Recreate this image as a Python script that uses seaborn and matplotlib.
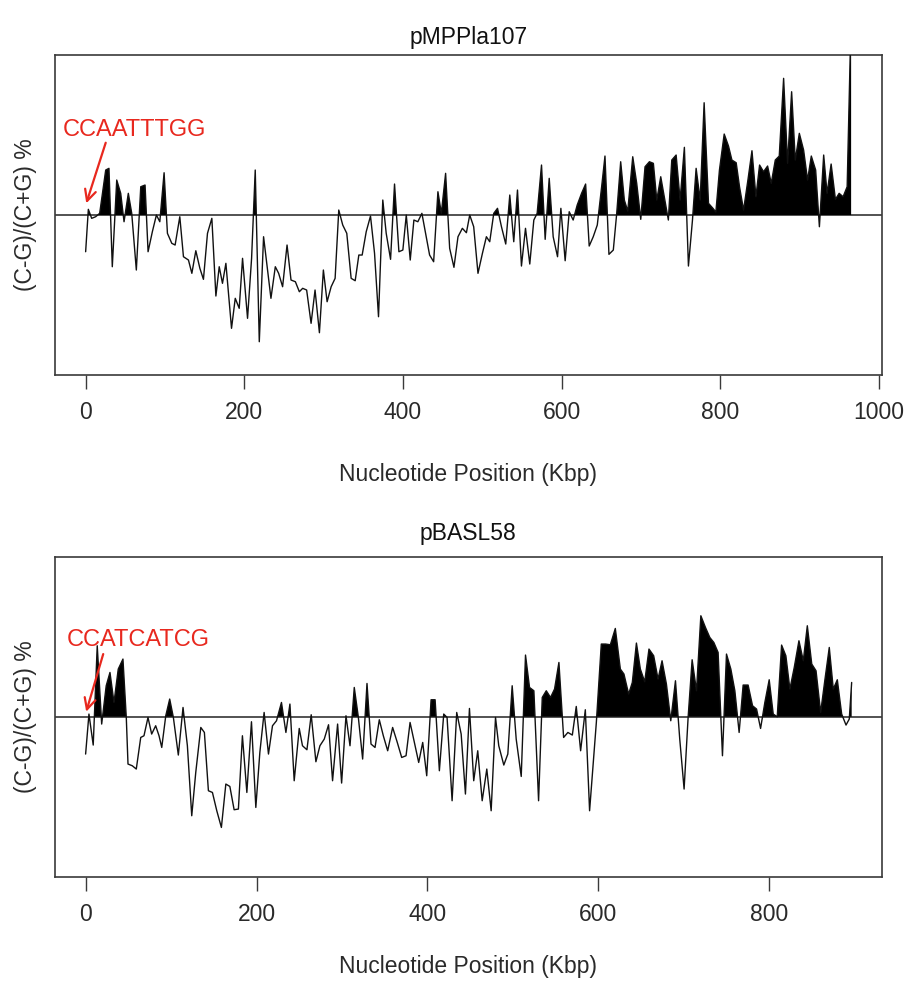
import numpy as np
import matplotlib
matplotlib.use("Agg")
import matplotlib.pyplot as plt
import seaborn as sns

# ---------------- data ----------------
titles = ["pMPPla107", "pBASL58"]
motifs = ["CCAATTTGG", "CCATCATCG"]
xlabel = "Nucleotide Position (Kbp)"
ylabel = "(C-G)/(C+G) %"

pos_top = [
    0, 3.4, 7.6, 12.6, 17.7, 25.3, 29.4, 33.6, 39.2, 44.2,
    48.4, 53.8, 58.1, 63.9, 69.5, 74.9, 78.7, 84.1, 89.2, 93.5,
    98.9, 103.1, 108.6, 112.8, 118.7, 123.3, 129.6, 133.9, 138.9, 144.0,
    148.5, 153.6, 159.1, 164.2, 168.4, 172.5, 176.8, 183.9, 188.6, 193.6,
    197.8, 204.1, 209.2, 213.8, 218.9, 224.3, 233.6, 239.1, 243.3, 248.3,
    253.9, 258.9, 264.4, 269.4, 273.6, 278.6, 284.2, 289.2, 294.7, 299.7,
    304.4, 309.5, 314.5, 319.1, 324.1, 329.2, 334.7, 339.8, 344.4, 348.6,
    353.7, 359.1, 364.2, 369.2, 374.6, 378.9, 384.4, 389.4, 394.9, 399.9,
    404.2, 409.2, 413.8, 418.8, 423.9, 429.4, 433.6, 438.7, 444.1, 448.4,
    453.8, 458.9, 464.3, 469.4, 474.9, 480.0, 484.2, 489.2, 494.6, 500.2,
    505.2, 509.4, 514.5, 519.2, 524.2, 529.6, 534.7, 539.7, 544.4, 549.4,
    554.5, 559.9, 565.0, 569.2, 574.7, 579.3, 584.4, 589.4, 594.9, 599.1,
    604.5, 609.6, 614.6, 619.7, 625.2, 630.3, 634.8, 639.9, 645.0, 650.5,
    654.7, 659.7, 665.2, 669.5, 674.5, 679.1, 683.4, 689.7, 694.7, 699.8,
    705.2, 710.7, 715.7, 720.0, 725.0, 730.1, 734.6, 738.9, 744.4, 749.4,
    754.8, 759.9, 765.0, 769.6, 774.7, 779.7, 785.2, 790.8, 794.5, 799.0,
    805.0, 810.4, 814.7, 820.1, 824.3, 829.4, 834.9, 840.0, 845.0, 849.6,
    854.6, 859.7, 864.3, 869.4, 874.4, 879.9, 884.9, 890.0, 894.6, 899.7,
    905.1, 910.1, 914.8, 920.3, 925.0, 930.4, 934.7, 939.8, 945.2, 949.9,
    954.9, 960.0, 965.0,
]
skew_top = [
    -36.7, 5.7, -3.3, -1.7, 1.7, 45, 46.7, -51.7, 35, 21.7,
    -6.7, 21.7, 1.7, -55, 28.3, 30, -36.7, -16.7, 0, -6.7,
    42.3, -18.3, -28.3, -30, -1.7, -41.7, -45, -58.3, -35.7, -53.3,
    -64.3, -18.3, -3.3, -81, -51.7, -68.3, -48.3, -113.3, -83.3, -93.3,
    -43.3, -103.3, -43.3, 45, -126.7, -21.7, -83.3, -51.7, -58.3, -71.7,
    -30, -65, -66.7, -76.7, -73.3, -75, -108.3, -75, -117.7, -55,
    -86.7, -71.7, -63.3, 5, -10, -18.3, -63.3, -65.7, -40, -40,
    -16.7, -1, -38.3, -101.7, 15, -18.3, -44.3, 31, -36.7, -35,
    0, -45, -5, -6.7, 1.7, -21.7, -40, -46.7, 23.3, 1.7,
    41.7, -33.3, -52.3, -21.7, -13.3, -17.7, 0, -11.7, -58.3, -38.3,
    -21.7, -26.7, 1.7, 6.7, -11.7, -29, 20, -26.7, 25, -51,
    -13.3, -49, -5, 1.7, 50, -24.3, 36.7, -21.7, -41.7, 6.7,
    -45.7, 3.3, -5, 10, 21.7, 31, -31, -21.7, -10, 28.3,
    59, -39.3, -35, 1.7, 53.3, 15, 4, 58.3, 31.7, -4.3,
    48.3, 53.3, 51.7, 15, 38.3, 15, -5, 55, 60, 15,
    67.7, -51, -5, 46.7, 15, 112.3, 11.7, 6.7, 3, 45,
    81, 69, 55, 52.3, 28.3, 5, 35, 64.3, 18.3, 50,
    43.3, 49, 31.7, 55, 59, 136.7, 51.7, 123.3, 55, 81.7,
    65, 35, 59, 45, -11.7, 60, 21.7, 51, 15.7, 21.7,
    18.3, 28.3, 200,
]

pos_bot = [
    0, 3.9, 8.9, 13.6, 18.8, 24.1, 28.5, 33.2, 38.2, 43.7,
    47.6, 49.6, 54.6, 59.3, 64.5, 68.3, 73.0, 77.3, 82.0, 85.9,
    89.1, 93.8, 98.4, 102.7, 108.5, 114.0, 119.1, 124.2, 128.9, 134.8,
    139.0, 143.7, 148.4, 153.5, 158.9, 164.1, 168.8, 173.8, 178.8, 183.5,
    188.7, 194.1, 199.2, 203.9, 208.9, 214.0, 218.7, 223.4, 229.2, 234.4,
    239.1, 244.1, 250.0, 253.8, 259.0, 264.0, 269.5, 274.2, 279.3, 284.3,
    289.0, 294.9, 299.6, 304.7, 309.4, 314.4, 319.1, 324.2, 329.3, 334.0,
    338.7, 343.7, 348.4, 353.5, 359.3, 364.5, 369.9, 375.0, 379.7, 384.7,
    389.8, 394.5, 399.2, 404.3, 409.0, 414.0, 419.1, 423.0, 428.9, 434.3,
    439.5, 444.5, 449.2, 454.2, 458.9, 464.1, 469.5, 474.6, 479.7, 483.5,
    489.4, 494.1, 499.2, 503.9, 509.8, 514.8, 519.5, 524.6, 530.1, 534.4,
    539.1, 544.1, 548.8, 553.9, 559.4, 564.4, 569.6, 574.2, 579.3, 584.8,
    589.8, 597.7, 603.5, 608.6, 614.1, 619.9, 625.8, 630.0, 635.5, 639.8,
    644.6, 649.2, 654.3, 659.3, 664.8, 669.9, 674.6, 679.7, 684.8, 690.3,
    695.3, 700.4, 705.1, 709.8, 714.9, 720.0, 725.4, 730.5, 735.2, 740.2,
    745.3, 750.0, 755.1, 759.8, 764.8, 769.5, 775.3, 780.5, 785.2, 789.9,
    794.9, 800.0, 804.7, 809.4, 814.5, 819.5, 824.2, 829.3, 834.8, 839.9,
    844.6, 849.8, 854.8, 860.2, 865.3, 870.3, 875.0, 879.7, 884.8, 889.9,
    893.7, 896.5,
]
skew_bot = [
    -37.3, 2.7, -28.3, 71, -7.3, 31, 44.3, 14.3, 47.7, 57.7,
    -0.7, -47.3, -49, -52.3, -20.7, -19, -0.7, -17.3, -9, -19,
    -30.7, 1, 17.7, -0.7, -38.3, 9.3, -29, -99, -55.7, -10.7,
    -15.7, -74, -75.7, -94, -110.7, -67.3, -69.7, -93, -92.3, -19,
    -75.7, -5, -90.7, -35.7, 4.3, -37.3, -9, -4, 14.3, -15.7,
    12.7, -64, -11.7, -29, -33, 2, -45, -29, -22.3, -8,
    -64, -7.3, -66.3, 1, -29, 29.3, 0, -42.3, 33.3, -27.3,
    -30.7, -3, -19, -34, -10.7, -25, -40.7, -39, -5.7, -25.7,
    -45.7, -25.7, -59, 17, 17, -54, 2.7, -0.7, -84, 4.3,
    -17.3, -77.3, 8.3, -64, -34, -84, -52.3, -94, -0.7, -29,
    -48.3, -37.3, 31, -22.3, -59.7, 61.7, 29.3, 26, -84, 19.3,
    26, 19.3, 27.7, 54.3, -20.7, -15.7, -18.3, 10.3, -34, 7,
    -94, -5.7, 72.7, 72.7, 72, 88.3, 47.7, 42.7, 22.7, 34.3,
    73.7, 47.7, 35, 67.7, 61, 37.7, 56, 32.7, -4, 36,
    -22.3, -72.3, -0.7, 57, 26, 101, 89.3, 79.3, 74.3, 64.3,
    -39, 62.7, 47.7, 26, -15.7, 31.7, 31.7, 11, 7.7, -11.7,
    14.3, 37, 2.7, 0, 71.7, 61, 27.7, 49.3, 76, 56,
    91, 52.7, 46, 4.3, 37.7, 69.3, 27.7, 37, 2.7, -8.3,
    -2.3, 34.3,
]

xticks_top = [0, 200, 400, 600, 800, 1000]
xticks_bot = [0, 200, 400, 600, 800]

# annotation anchor points (kbp, skew): text, arrow tail, arrow tip
motif_text_xy = [(-28.7, 85), (-21.6, 76.7)]
motif_tail_xy = [(25.3, 72.3), (20.6, 62.7)]
motif_tip_xy = [(0.8, 11.7), (0.7, 5.0)]

# ---------------- styling ----------------
sns.set_style("white")
plt.rcParams["font.family"] = ["Liberation Sans", "DejaVu Sans"]

FS = 16.5
RED = "#e8281e"
SPINE = "#3a3a3a"

fig = plt.figure(figsize=(9.05, 9.83), dpi=100)
axes_rects = [[0.0608, 0.6185, 0.9135, 0.3255],
              [0.0608, 0.1081, 0.9135, 0.3255]]
series = [(pos_top, skew_top, xticks_top, (-38.6, 1003.6)),
          (pos_bot, skew_bot, xticks_bot, (-35.8, 931.7))]
title_pads = [8, 12]
xlabel_pads = [28, 21]

for i, (rect, (pos, skew, xt, xl)) in enumerate(zip(axes_rects, series)):
    ax = fig.add_axes(rect)
    pos_a = np.asarray(pos, dtype=float)
    skew_a = np.asarray(skew, dtype=float)

    ax.fill_between(pos_a, skew_a, 0, where=skew_a > 0, interpolate=True,
                    color="black", linewidth=0, zorder=2)
    sns.lineplot(x=pos_a, y=skew_a, ax=ax, color="#111111", linewidth=1.0,
                 estimator=None, sort=False, zorder=3)
    ax.axhline(0, color="#444444", linewidth=1.3, zorder=1)

    ax.set_xlim(*xl)
    ax.set_ylim(-160, 160)
    ax.set_xticks(xt)
    ax.set_xticklabels([str(t) for t in xt])
    ax.set_yticks([])
    ax.tick_params(axis="x", direction="out", length=10, width=1.0,
                   color=SPINE, labelsize=FS, labelcolor="#2a2a2a", pad=9,
                   bottom=True)
    for sp in ax.spines.values():
        sp.set_visible(True)
        sp.set_color(SPINE)
        sp.set_linewidth(1.2)

    ax.set_title(titles[i], fontsize=FS, color="#111111", pad=title_pads[i])
    ax.set_xlabel(xlabel, fontsize=FS, color="#2a2a2a", labelpad=xlabel_pads[i])
    ax.set_ylabel(ylabel, fontsize=FS, color="#2a2a2a", labelpad=13)

    ax.annotate(motifs[i], xy=motif_text_xy[i], ha="left", va="center",
                fontsize=17, color=RED, zorder=5)
    ax.annotate("", xy=motif_tip_xy[i], xytext=motif_tail_xy[i],
                arrowprops=dict(arrowstyle="->", color=RED, lw=1.6,
                                mutation_scale=20, shrinkA=0, shrinkB=0),
                zorder=5)

fig.savefig("out.png", dpi=100)
